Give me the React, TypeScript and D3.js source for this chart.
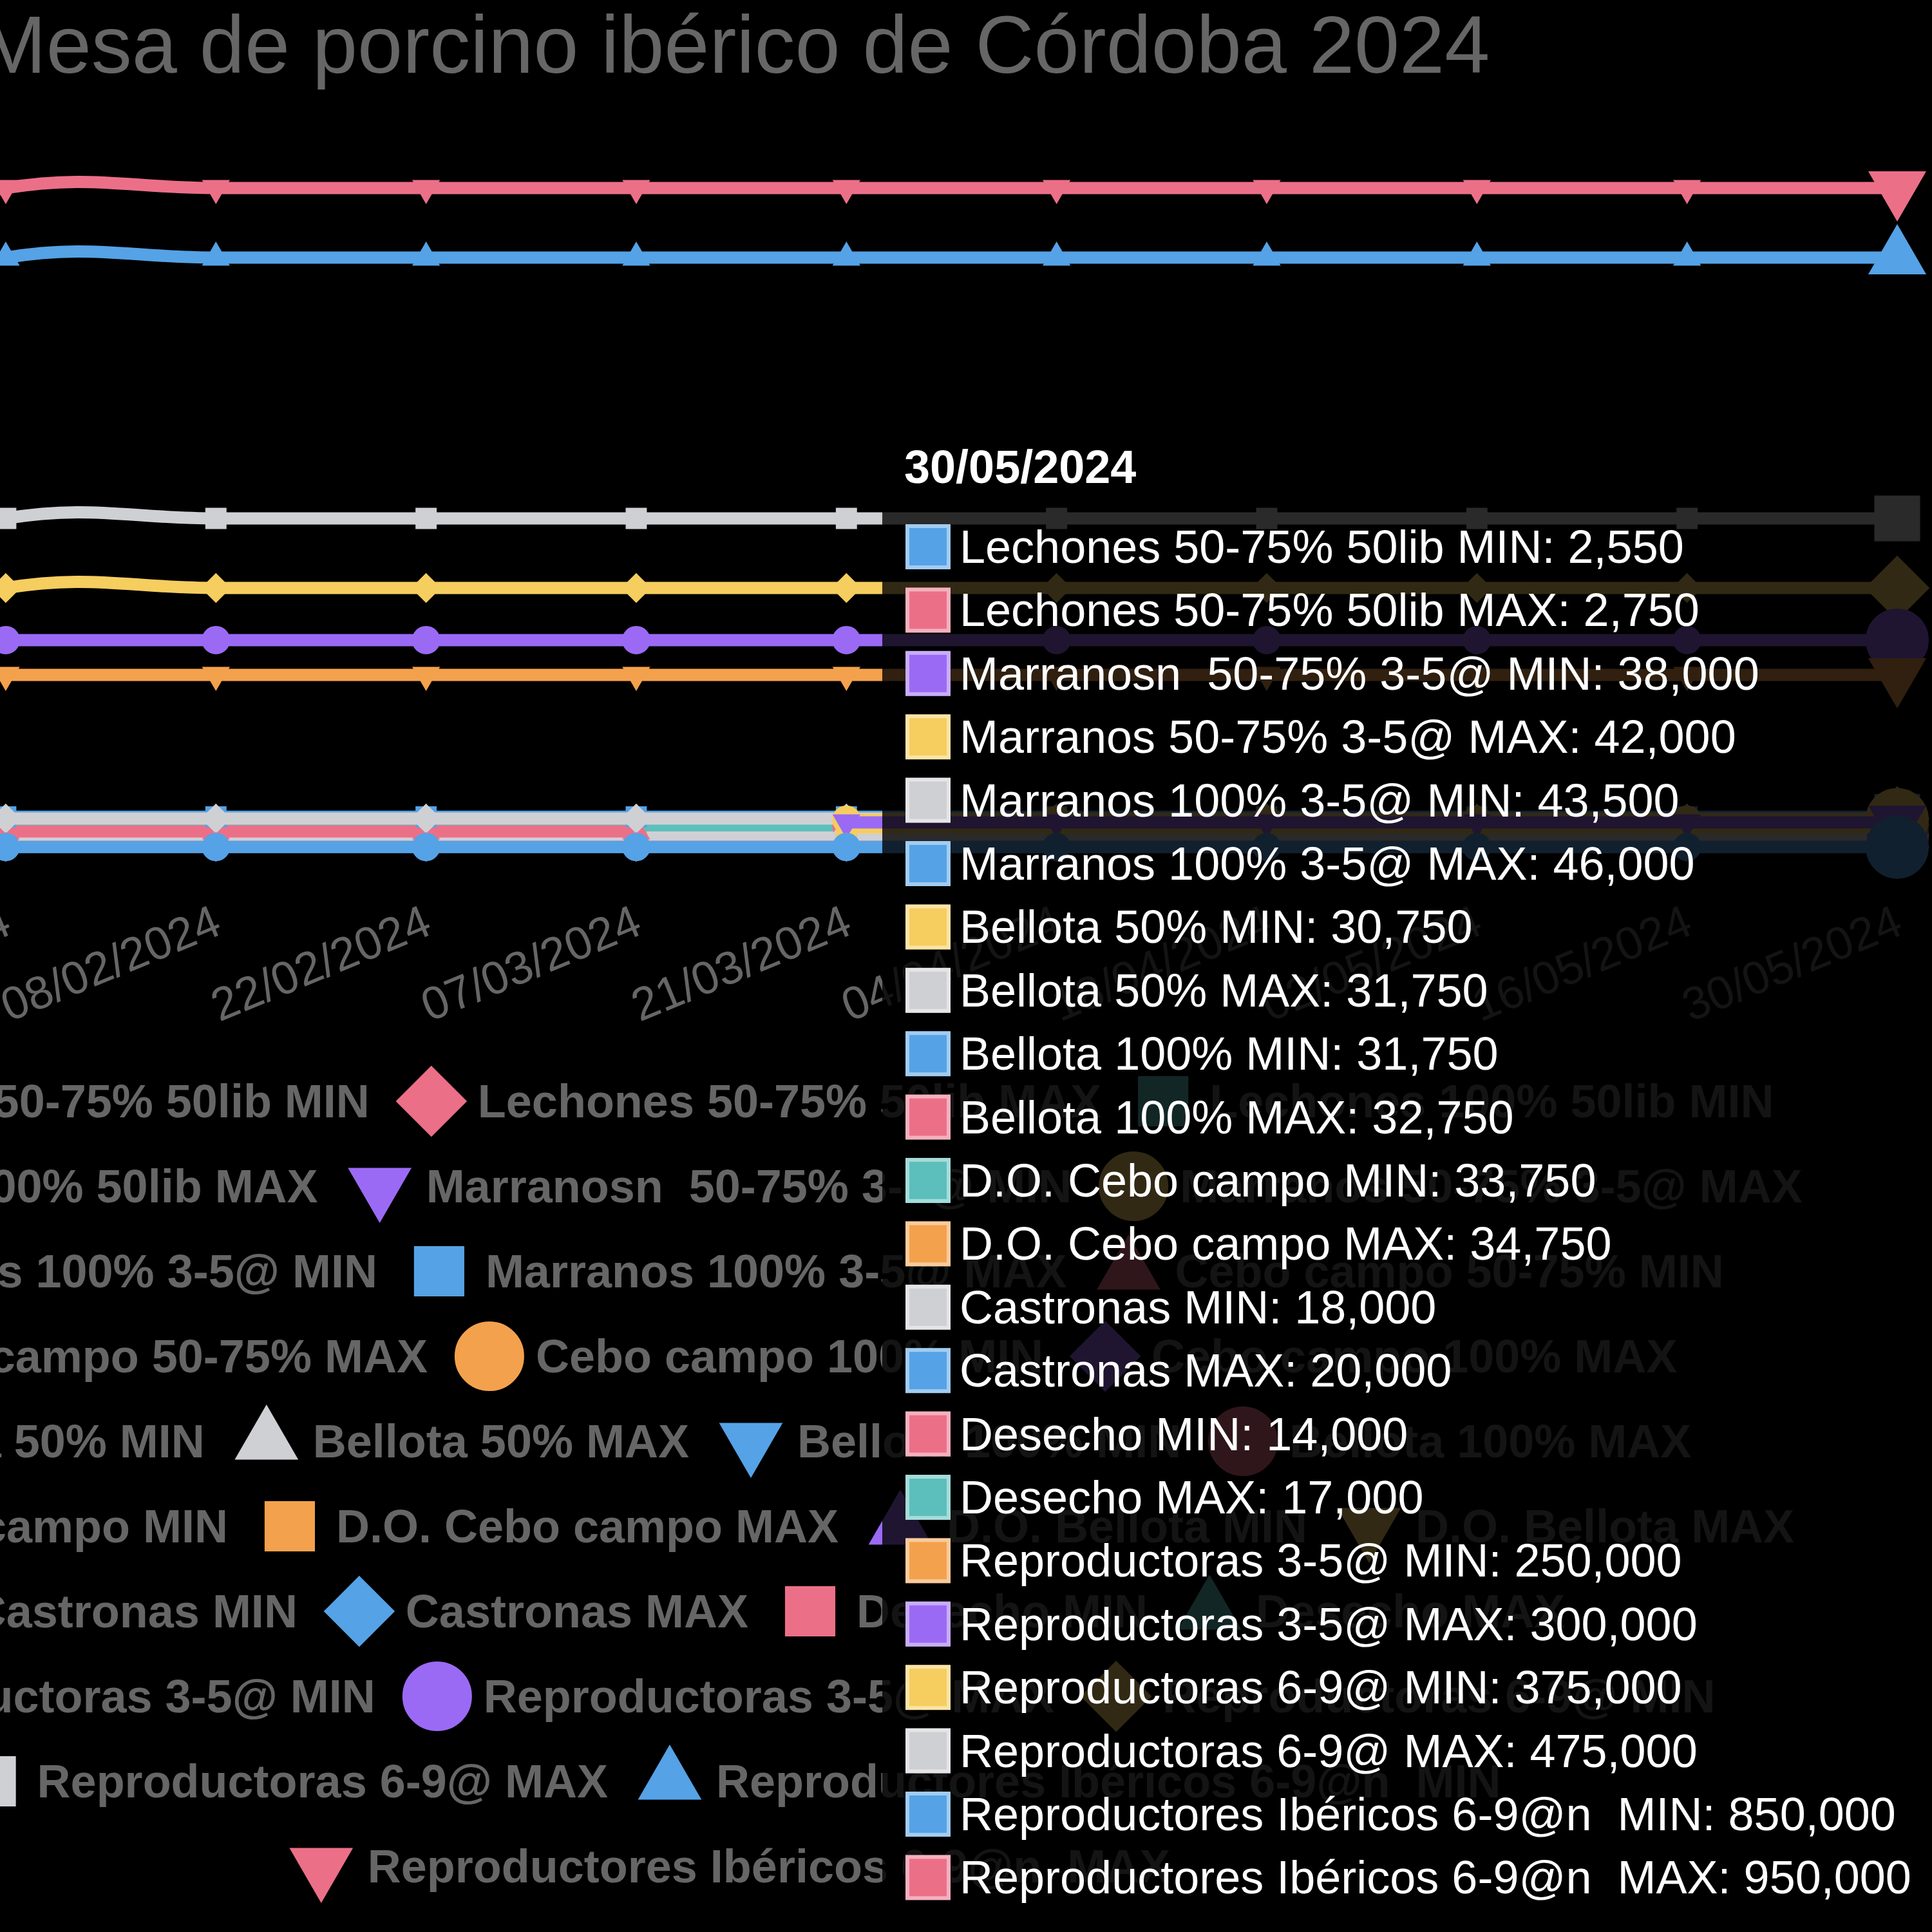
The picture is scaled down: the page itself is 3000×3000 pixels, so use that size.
import React, { useRef, useEffect } from 'react';
import * as d3 from 'd3';

const title = 'Mesa de porcino ibérico de Córdoba 2024';

const dates = ['11/01/2024', '25/01/2024', '08/02/2024', '22/02/2024', '07/03/2024', '21/03/2024',
  '04/04/2024', '18/04/2024', '02/05/2024', '16/05/2024', '30/05/2024'];

// precios por serie (null = sin cotización)
const lechones5075Min = [2550, 2550, 2550, 2550, 2550, 2550, 2550, 2550, 2550, 2550, 2550];
const lechones5075Max = [2750, 2750, 2750, 2750, 2750, 2750, 2750, 2750, 2750, 2750, 2750];
const lechones100Min = [null, null, null, null, null, null, null, null, null, null, null];
const lechones100Max = [null, null, null, null, null, null, null, null, null, null, null];
const marranos5075Min = [null, null, null, null, null, 38000, 38000, 38000, 38000, 38000, 38000];
const marranos5075Max = [null, null, null, null, null, 42000, 42000, 42000, 42000, 42000, 42000];
const marranos100Min = [43500, 43500, 43500, 43500, 43500, 43500, 43500, 43500, 43500, 43500, 43500];
const marranos100Max = [46000, 46000, 46000, 46000, 46000, 46000, 46000, 46000, 46000, 46000, 46000];
const cebo5075Min = [25000, 25000, 25000, 25000, 25000, null, null, null, null, null, null];
const cebo5075Max = [26500, 26500, 26500, 26500, 26500, null, null, null, null, null, null];
const cebo100Min = [null, null, null, null, null, null, null, null, null, null, null];
const cebo100Max = [null, null, null, null, null, null, null, null, null, null, null];
const bellota50Min = [null, null, null, null, null, 30750, 30750, 30750, 30750, 30750, 30750];
const bellota50Max = [null, null, null, null, null, 31750, 31750, 31750, 31750, 31750, 31750];
const bellota100Min = [null, null, null, null, null, 31750, 31750, 31750, 31750, 31750, 31750];
const bellota100Max = [null, null, null, null, null, 32750, 32750, 32750, 32750, 32750, 32750];
const doCeboMin = [null, null, null, null, 33750, 33750, 33750, 33750, 33750, 33750, 33750];
const doCeboMax = [null, null, null, null, 34750, 34750, 34750, 34750, 34750, 34750, 34750];
const doBellotaMin = [null, null, null, null, null, null, null, null, null, null, null];
const doBellotaMax = [null, null, null, null, null, null, null, null, null, null, null];
const castronasMin = [18000, 18000, 18000, 18000, 18000, 18000, 18000, 18000, 18000, 18000, 18000];
const castronasMax = [20000, 20000, 20000, 20000, 20000, 20000, 20000, 20000, 20000, 20000, 20000];
const desechoMin = [14000, 14000, 14000, 14000, 14000, 14000, 14000, 14000, 14000, 14000, 14000];
const desechoMax = [17000, 17000, 17000, 17000, 17000, 17000, 17000, 17000, 17000, 17000, 17000];
const reprod35Min = [250000, 250000, 250000, 250000, 250000, 250000, 250000, 250000, 250000, 250000, 250000];
const reprod35Max = [300000, 300000, 300000, 300000, 300000, 300000, 300000, 300000, 300000, 300000, 300000];
const reprod69Min = [275000, 375000, 375000, 375000, 375000, 375000, 375000, 375000, 375000, 375000, 375000];
const reprod69Max = [375000, 475000, 475000, 475000, 475000, 475000, 475000, 475000, 475000, 475000, 475000];
const iberMin = [750000, 850000, 850000, 850000, 850000, 850000, 850000, 850000, 850000, 850000, 850000];
const iberMax = [850000, 950000, 950000, 950000, 950000, 950000, 950000, 950000, 950000, 950000, 950000];

const seriesNames = [
  'Lechones 50-75% 50lib MIN', 'Lechones 50-75% 50lib MAX', 'Lechones 100% 50lib MIN', 'Lechones 100% 50lib MAX',
  'Marranosn  50-75% 3-5@ MIN', 'Marranos 50-75% 3-5@ MAX', 'Marranos 100% 3-5@ MIN', 'Marranos 100% 3-5@ MAX',
  'Cebo campo 50-75% MIN', 'Cebo campo 50-75% MAX', 'Cebo campo 100% MIN', 'Cebo campo 100% MAX',
  'Bellota 50% MIN', 'Bellota 50% MAX', 'Bellota 100% MIN', 'Bellota 100% MAX',
  'D.O. Cebo campo MIN', 'D.O. Cebo campo MAX', 'D.O. Bellota MIN', 'D.O. Bellota MAX',
  'Castronas MIN', 'Castronas MAX', 'Desecho MIN', 'Desecho MAX',
  'Reproductoras 3-5@ MIN', 'Reproductoras 3-5@ MAX', 'Reproductoras 6-9@ MIN', 'Reproductoras 6-9@ MAX',
  'Reproductores Ibéricos 6-9@n  MIN', 'Reproductores Ibéricos 6-9@n  MAX'
];

const seriesValues = [
  lechones5075Min, lechones5075Max, lechones100Min, lechones100Max,
  marranos5075Min, marranos5075Max, marranos100Min, marranos100Max,
  cebo5075Min, cebo5075Max, cebo100Min, cebo100Max,
  bellota50Min, bellota50Max, bellota100Min, bellota100Max,
  doCeboMin, doCeboMax, doBellotaMin, doBellotaMax,
  castronasMin, castronasMax, desechoMin, desechoMax,
  reprod35Min, reprod35Max, reprod69Min, reprod69Max,
  iberMin, iberMax
];

const legendRowSizes = [3, 3, 3, 3, 4, 4, 4, 3, 2, 1];

const palette = ['#55a2e6', '#ec6f88', '#5cbfbc', '#f4a14d', '#9b6af5', '#f6cd5f', '#cfd0d4'];
const pointStyles = ['circle', 'rectRot', 'rect', 'triangle', 'triangleDown'];
const FONT = "'Liberation Sans', Arial, Helvetica, sans-serif";

function symbolPath(style: string, r: number) {
  const p = d3.path();
  if (style === 'circle') {
    p.moveTo(r, 0);
    p.arc(0, 0, r, 0, 2 * Math.PI);
  } else if (style === 'rect') {
    const s = r * Math.SQRT1_2;
    p.rect(-s, -s, 2 * s, 2 * s);
  } else if (style === 'rectRot') {
    p.moveTo(0, -r); p.lineTo(r, 0); p.lineTo(0, r); p.lineTo(-r, 0); p.closePath();
  } else {
    const rot = style === 'triangle' ? 0 : Math.PI;
    for (let k = 0; k < 3; k++) {
      const a = rot + k * 2 * Math.PI / 3;
      if (k === 0) p.moveTo(Math.sin(a) * r, -Math.cos(a) * r);
      else p.lineTo(Math.sin(a) * r, -Math.cos(a) * r);
    }
    p.closePath();
  }
  return p.toString();
}

const App = () => {
  const chart = useRef<SVGSVGElement>(null);

  useEffect(() => {
    const svg = d3.select(chart.current);
    svg.selectAll('*').remove();
    svg.append('rect').attr('width', 3000).attr('height', 3000).attr('fill', '#000');

    svg.append('text')
      .attr('x', 1140).attr('y', 113)
      .attr('text-anchor', 'middle')
      .attr('font-family', FONT).attr('font-size', 126).attr('fill', '#666')
      .text(title);

    const x = d3.scalePoint().domain(dates).range([-317.4, 2946]);
    const y = d3.scaleLinear().domain([0, 1000000]).range([1318, 238]);

    // eje x con etiquetas giradas
    const xAxis = svg.append('g')
      .attr('transform', 'translate(2,1426)')
      .call(d3.axisBottom(x).tickSize(0).tickPadding(0));
    xAxis.select('.domain').remove();
    xAxis.selectAll('text')
      .attr('y', 0).attr('dy', null)
      .attr('text-anchor', 'end')
      .attr('dominant-baseline', 'central')
      .attr('transform', 'rotate(-22.5)')
      .attr('font-family', FONT).attr('font-size', 72).attr('fill', '#666');

    const line = d3.line<number | null>()
      .defined(v => v != null)
      .x((v, i) => x(dates[i]) as number)
      .y(v => y(v as number))
      .curve(d3.curveCardinal.tension(-0.2));

    const last = dates.length - 1;
    const plot = svg.append('g');
    for (let s = seriesValues.length - 1; s >= 0; s--) {
      const color = palette[s % 7];
      const style = pointStyles[s % 5];
      const vals = seriesValues[s];
      const g = plot.append('g');
      g.append('path')
        .attr('d', line(vals))
        .attr('fill', 'none')
        .attr('stroke', color)
        .attr('stroke-width', 19);
      g.selectAll('path.pt')
        .data(vals.map((v, i) => ({ v, i })).filter(d => d.v != null))
        .join('path')
        .attr('class', 'pt')
        .attr('transform', d => `translate(${x(dates[d.i])},${y(d.v as number)})`)
        .attr('d', d => symbolPath(style, d.i === last ? 46 : 19))
        .attr('fill', color)
        .attr('stroke', color)
        .attr('stroke-width', 6);
    }

    // leyenda
    const ctx = document.createElement('canvas').getContext('2d') as CanvasRenderingContext2D;
    ctx.font = `bold 72px ${FONT}`;
    const legend = svg.append('g');
    let idx = 0;
    legendRowSizes.forEach((count, row) => {
      const items = d3.range(idx, idx + count);
      const widths = items.map(i => 108 + ctx.measureText(seriesNames[i]).width);
      const rowW = d3.sum(widths) + (count - 1) * 60;
      let cx = 1140 - rowW / 2;
      const cy = 1710 + row * 132;
      items.forEach((i, k) => {
        legend.append('path')
          .attr('transform', `translate(${cx + 36},${cy})`)
          .attr('d', symbolPath(pointStyles[i % 5], 51))
          .attr('fill', palette[i % 7])
          .attr('stroke', palette[i % 7])
          .attr('stroke-width', 6);
        legend.append('text')
          .attr('x', cx + 108).attr('y', cy)
          .attr('dominant-baseline', 'central')
          .attr('font-family', FONT).attr('font-size', 72).attr('font-weight', 'bold')
          .attr('fill', '#666')
          .style('white-space', 'pre')
          .text(seriesNames[i]);
        cx += widths[k] + 60;
      });
      idx += count;
    });

    // tooltip del último punto
    const tip = svg.append('g');
    tip.append('rect')
      .attr('x', 1370).attr('y', 679)
      .attr('width', 1700).attr('height', 2311)
      .attr('rx', 36)
      .attr('fill', 'rgba(0,0,0,0.8)');
    tip.append('text')
      .attr('x', 1404).attr('y', 750)
      .attr('font-family', FONT).attr('font-size', 72).attr('font-weight', 'bold')
      .attr('fill', '#fff')
      .text(dates[last]);
    const rows = seriesValues.map((v, i) => ({ i, v: v[last] })).filter(d => d.v != null);
    const fmt = d3.format(',');
    rows.forEach((d, k) => {
      const cy = 849 + k * 98.4;
      const color = palette[d.i % 7];
      tip.append('rect')
        .attr('x', 1406).attr('y', cy - 35).attr('width', 70).attr('height', 70)
        .attr('fill', d3.interpolateRgb(color, '#fff')(0.45));
      tip.append('rect')
        .attr('x', 1412).attr('y', cy - 29).attr('width', 58).attr('height', 58)
        .attr('fill', color);
      tip.append('text')
        .attr('x', 1490).attr('y', cy)
        .attr('dominant-baseline', 'central')
        .attr('font-family', FONT).attr('font-size', 72)
        .attr('fill', '#fff')
        .style('white-space', 'pre')
        .text(`${seriesNames[d.i]}: ${fmt(d.v as number)}`);
    });
  }, []);

  return (
    <div style={{ position: 'absolute', left: 0, top: 0, width: 3000, height: 3000, background: '#000' }}>
      <svg ref={chart} width={3000} height={3000} style={{ display: 'block' }} />
    </div>
  );
};

export default App;
